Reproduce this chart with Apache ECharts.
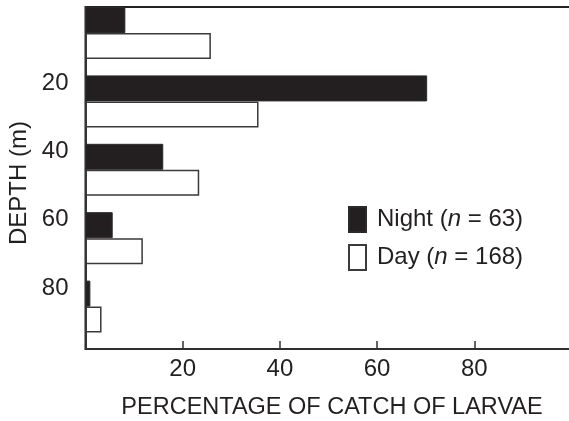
<!DOCTYPE html>
<html><head><meta charset="utf-8">
<script src="https://cdn.jsdelivr.net/npm/echarts@6/dist/echarts.min.js"></script>
<style>html,body{margin:0;padding:0;background:#fff}#c{width:569px;height:421px}</style>
</head><body><div id="c"></div>
<script>
const depthBins = ['0', '20', '40', '60', '80'];
const nightValues = [8.2, 70.3, 16.0, 5.6, 1.0];
const dayValues = [25.8, 35.6, 23.4, 11.8, 3.3];
const spacerValues = [0, 0, 0, 0, 0];
const depthTicks = [20, 40, 60, 80];
const percentTicks = [20, 40, 60, 80];

const ink = '#231f20';
const font = 'Liberation Sans, Arial, Helvetica, sans-serif';
const fs = 24;
const chart = echarts.init(document.getElementById('c'));
chart.setOption({
  animation: false,
  backgroundColor: '#fff',
  textStyle: { fontFamily: font, color: ink },
  grid: { left: 85.5, top: 7, right: -2.5, bottom: 72, containLabel: false, outerBoundsMode: 'none',
    show: true, borderColor: '#222', borderWidth: 2, backgroundColor: 'rgba(0,0,0,0)' },
  legend: {
    data: ['Night', 'Day'],
    orient: 'vertical',
    left: 343, top: 201,
    itemWidth: 17, itemHeight: 25, itemGap: 11,
    icon: 'rect',
    formatter: function (name) {
      return name === 'Night' ? '{s|}{a|Night (}{i|n}{a| = 63)}' : '{s|}{a|Day (}{i|n}{a| = 168)}';
    },
    textStyle: {
      fontFamily: font, color: ink, fontSize: fs,
      rich: {
        s: { width: 6 },
        a: { fontFamily: font, color: ink, fontSize: fs },
        i: { fontFamily: font, color: ink, fontSize: fs, fontStyle: 'italic' }
      }
    }
  },
  xAxis: [{
    type: 'value', position: 'bottom', min: 0, max: 100, interval: 20,
    axisLine: { show: true, onZero: false, lineStyle: { color: '#333', width: 1.5 } },
    axisTick: { show: true, inside: true, length: 8, lineStyle: { color: '#333', width: 1.5 } },
    axisLabel: { margin: 8, fontSize: fs, color: ink, fontFamily: font,
      formatter: v => percentTicks.includes(v) ? String(v) : '' },
    splitLine: { show: false },
    name: 'PERCENTAGE OF CATCH OF LARVAE', nameLocation: 'middle', nameGap: 47,
    nameTextStyle: { fontSize: 23.5, color: ink, fontFamily: font, padding: [0, 0, 0, 7] }
  }],
  yAxis: [{
    type: 'category', data: depthBins, inverse: true,
    axisLine: { show: true, onZero: false, lineStyle: { color: '#333', width: 2 } },
    axisTick: { show: false }, axisLabel: { show: false }, splitLine: { show: false }
  }, {
    type: 'value', position: 'left', min: 0, max: 100, interval: 20, inverse: true,
    axisLine: { show: false, onZero: false }, axisTick: { show: false }, splitLine: { show: false },
    axisLabel: { margin: 17, fontSize: fs, color: ink, fontFamily: font,
      verticalAlign: 'top', lineHeight: 15,
      formatter: v => depthTicks.includes(v) ? String(v) : '' },
    name: 'DEPTH (m)', nameLocation: 'middle', nameGap: 52, nameRotate: 90,
    nameTextStyle: { fontSize: fs, color: ink, fontFamily: font, padding: [0, 10, 0, 0] }
  }],
  series: [{
    name: 'Night', type: 'bar', xAxisIndex: 0, yAxisIndex: 0, data: nightValues,
    barWidth: 26, barGap: 0,
    itemStyle: { color: ink, borderColor: '#2a2a2a', borderWidth: 1 }
  }, {
    name: 'Day', type: 'bar', xAxisIndex: 0, yAxisIndex: 0, data: dayValues,
    barWidth: 26, barGap: 0,
    itemStyle: { color: '#fff', borderColor: '#3a3a3a', borderWidth: 1.5 }
  }, {
    name: 'spacer', type: 'bar', xAxisIndex: 0, yAxisIndex: 0, data: spacerValues,
    barWidth: 16.4, barGap: 0, silent: true,
    itemStyle: { color: 'rgba(0,0,0,0)', borderWidth: 0 }
  }]
});
</script></body></html>
